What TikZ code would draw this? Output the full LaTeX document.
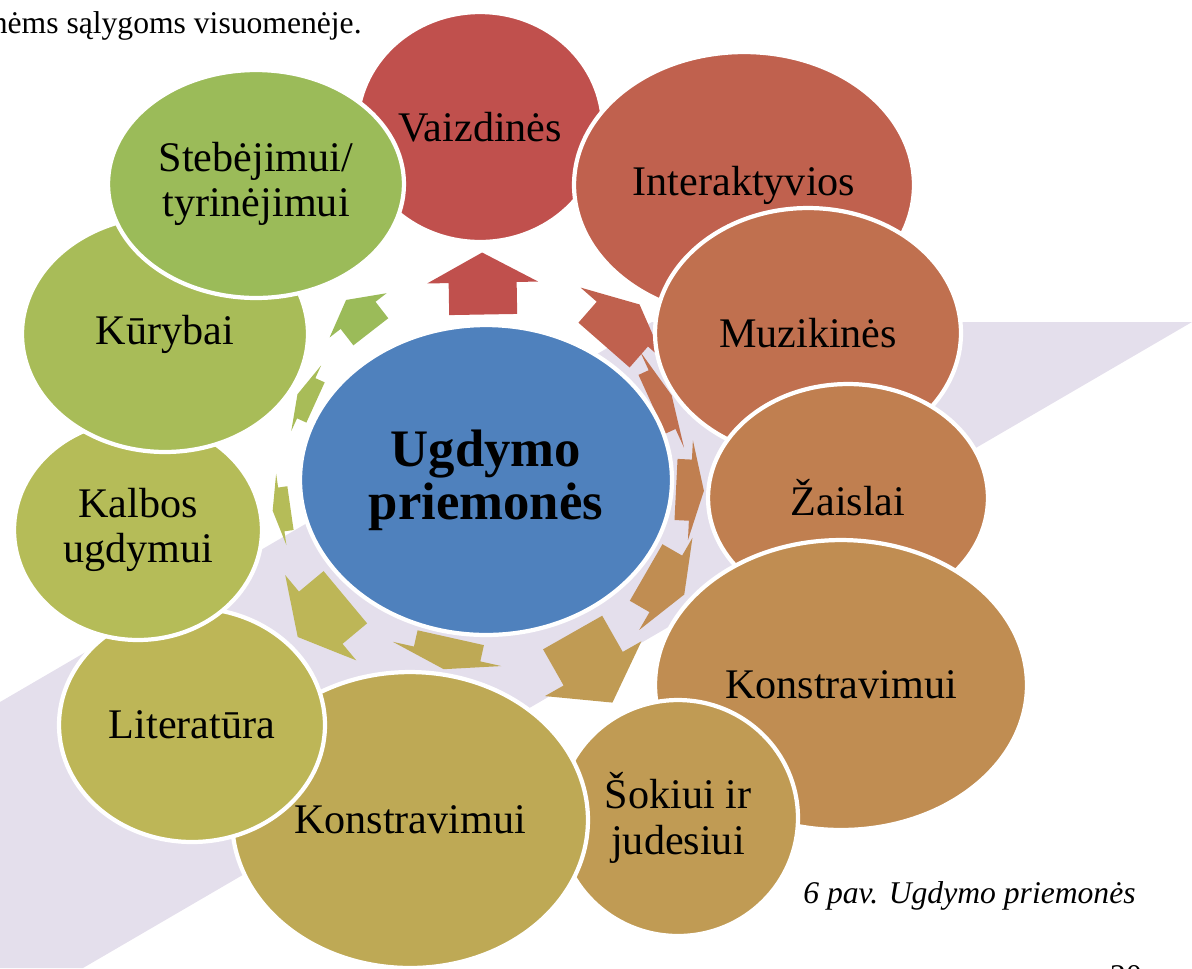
\documentclass[tikz,border=0pt]{standalone}
\usepackage{fontspec}
\setmainfont{Liberation Serif}
\usetikzlibrary{shapes.geometric,backgrounds}
\definecolor{band}{RGB}{228,223,236}
\definecolor{mid}{RGB}{79,129,189}
\definecolor{c1}{RGB}{192,80,77}
\definecolor{c2}{RGB}{192,97,78}
\definecolor{c3}{RGB}{192,112,79}
\definecolor{c4}{RGB}{192,127,80}
\definecolor{c5}{RGB}{192,141,82}
\definecolor{c6}{RGB}{192,155,84}
\definecolor{c7}{RGB}{190,169,85}
\definecolor{c8}{RGB}{189,182,87}
\definecolor{c9}{RGB}{181,188,88}
\definecolor{c10}{RGB}{168,188,88}
\definecolor{c11}{RGB}{155,187,89}
\tikzset{
  bubble/.style={ellipse, draw=white, line width=2.4pt, fill=#1, inner sep=0pt, align=center,
    font=\fontsize{24}{26}\selectfont},
  pics/blockarrow/.style n args={3}{code={
    \fill[#1] (-31*#2,-34*#3) -- (1*#2,-34*#3) -- (1*#2,-55.5*#3) -- (31*#2,0) -- (1*#2,55.5*#3)
      -- (1*#2,34*#3) -- (-31*#2,34*#3) -- cycle;}}
}
\begin{document}
\begin{tikzpicture}[x=0.02cm, y=-0.02cm]
    \useasboundingbox (0,0) rectangle (1192,968);
    \node[bubble=mid, minimum width=7.44cm, minimum height=6.2cm, font=\fontsize{30}{30}\selectfont\bfseries] (ctr) at (486,480) {Ugdymo\\priemonės};
    \node[bubble=c1, minimum width=4.92cm, minimum height=4.6cm] (n1) at (480,127) {Vaizdinės};
    \node[bubble=c2, minimum width=6.8cm, minimum height=5.32cm] (n2) at (744,185) {Interaktyvios};
    \node[bubble=c3, minimum width=6.12cm, minimum height=5cm] (n3) at (808,333) {Muzikinės};
    \node[bubble=c4, minimum width=5.6cm, minimum height=4.56cm] (n4) at (848,498) {Žaislai};
    \node[bubble=c5, minimum width=7.44cm, minimum height=5.8cm] (n5) at (841,685) {Konstravimui};
    \node[bubble=c6, minimum width=4.8cm, minimum height=4.72cm] (n6) at (678,818) {Šokiui ir\\judesiui};
    \node[bubble=c7, minimum width=7.12cm, minimum height=5.92cm] (n7) at (410,820) {Konstravimui};
    \node[bubble=c8, minimum width=5.32cm, minimum height=4.68cm] (n8) at (192,725) {Literatūra};
    \node[bubble=c9, minimum width=4.96cm, minimum height=4.4cm] (n9) at (138,530) {Kalbos\\ugdymui};
    \node[bubble=c10, minimum width=5.72cm, minimum height=4.72cm] (n10) at (165,334) {Kūrybai};
    \node[bubble=c11, minimum width=5.92cm, minimum height=4.56cm] (n11) at (256,184) {Stebėjimui/\\tyrinėjimui};
    \begin{scope}[on background layer]
        \fill[band] (0,702) -- (652,322) -- (1192,322) -- (83,968) -- (0,968) -- cycle;
        \foreach \n/\c/\a/\b in {n1/c1/1/1,n2/c2/0.87/1,n3/c3/0.35/0.95,n4/c4/0.45/0.9,n5/c5/0.71/0.96,n6/c6/1.3/1,
                n7/c7/0.52/1,n8/c8/1/1,n9/c9/0.29/0.65,n10/c10/0.32/0.65,n11/c11/0.65/0.65}
            \path (ctr) -- pic[midway, sloped, allow upside down]{blockarrow={\c}{\a}{\b}} (\n);
    \end{scope}
    \node[anchor=base east, inner sep=0pt, font=\fontsize{18}{20}\selectfont] (prev) at (362,33) {nėms sąlygoms visuomenėje.};
    \node[anchor=base west, inner sep=0pt, font=\fontsize{18}{20}\selectfont\itshape] (cap) at (803,903) {6 pav. Ugdymo priemonės};
    \node[anchor=base, inner sep=0pt, font=\fontsize{18}{20}\selectfont] (pg) at (1126,986) {20};
\end{tikzpicture}
\end{document}
